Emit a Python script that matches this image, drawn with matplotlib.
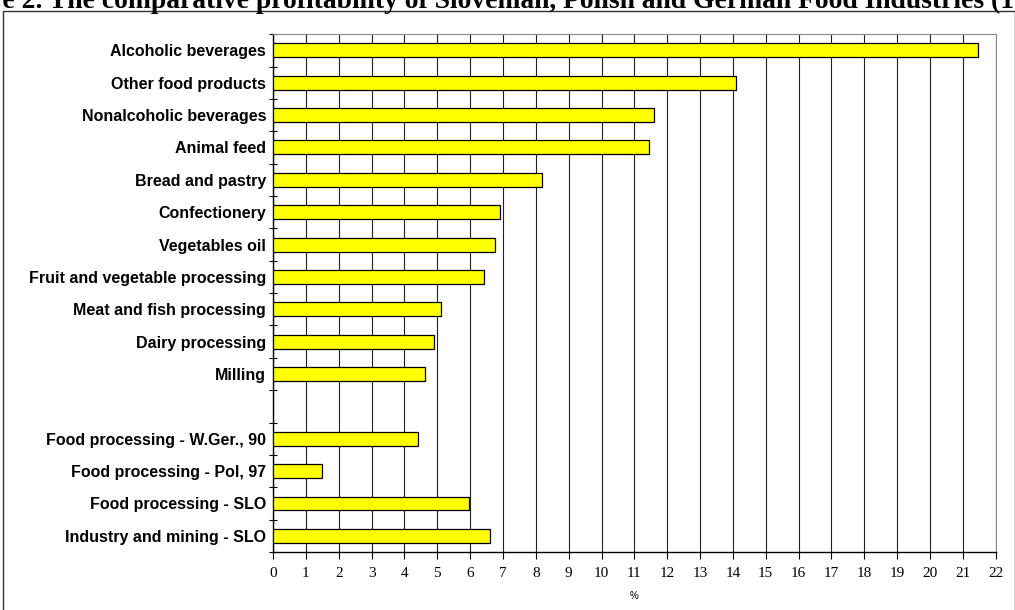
import matplotlib.pyplot as plt
import numpy as np
from matplotlib.patches import Rectangle

# categories from top to bottom; "" marks the empty slot between the groups
categories = ["Alcoholic beverages", "Other food products", "Nonalcoholic beverages",
              "Animal feed", "Bread and pastry", "Confectionery", "Vegetables oil",
              "Fruit and vegetable processing", "Meat and fish processing",
              "Dairy processing", "Milling", "",
              "Food processing - W.Ger., 90", "Food processing - Pol, 97",
              "Food processing - SLO", "Industry and mining - SLO"]
values = [21.45, 14.1, 11.6, 11.45, 8.2, 6.9, 6.75, 6.42, 5.12, 4.9, 4.62, np.nan,
          4.4, 1.48, 5.97, 6.6]
xticks = list(range(0, 23))

fig = plt.figure(figsize=(10.15, 6.1), dpi=100)
ax = fig.add_axes([0.269, 0.095, 0.712, 0.849])

pos = np.arange(len(categories))
# draw only the real bars (skip the empty slot)
mask = ~np.isnan(values)
ax.barh(pos[mask], np.array(values)[mask], height=0.43, color='#ffff00',
        edgecolor='black', linewidth=0.9, zorder=3)

ax.set_xlim(0, 22)
ax.set_ylim(len(categories) - 0.5, -0.5)

# vertical grid at every unit
ax.set_xticks(xticks)
ax.set_xticklabels([str(t) for t in xticks], family='Liberation Serif', fontsize=11)
ax.grid(axis='x', color='#222222', linewidth=0.8, zorder=1)
ax.tick_params(axis='x', direction='out', length=5, width=0.8, pad=6)

# category labels without ticks, ticks at the slot borders
ax.set_yticks(pos)
ax.set_yticklabels(categories, family='Liberation Sans', fontweight='bold', fontsize=11.5)
ax.tick_params(axis='y', which='major', length=0, pad=5)
ax.set_yticks(np.arange(-0.5, len(categories)), minor=True)
ax.tick_params(axis='y', which='minor', direction='inout', length=6, width=0.8)

for s in ['top', 'right']:
    ax.spines[s].set_color('#888888')
for s in ['left', 'bottom']:
    ax.spines[s].set_linewidth(1.0)

ax.set_xlabel('%', family='Liberation Sans', fontsize=7, labelpad=8)

# outer frame of the chart object (right edge sits on the image border)
fig.patches.append(Rectangle((3 / 1015, -0.05), 1011.5 / 1015, 1.05 - 11 / 610,
                             transform=fig.transFigure, fill=False,
                             edgecolor='#333333', linewidth=1.0))

# title, cut off at the edges like in the source page
fig.text(-63 / 1015, 1 - 8 / 610, "Figure 2. The comparative profitability of Slovenian, "
         "Polish and German Food Industries (1990-97)", family='Liberation Serif',
         fontweight='bold', fontsize=19.9, va='baseline', ha='left')

fig.savefig('out.png', dpi=100)
